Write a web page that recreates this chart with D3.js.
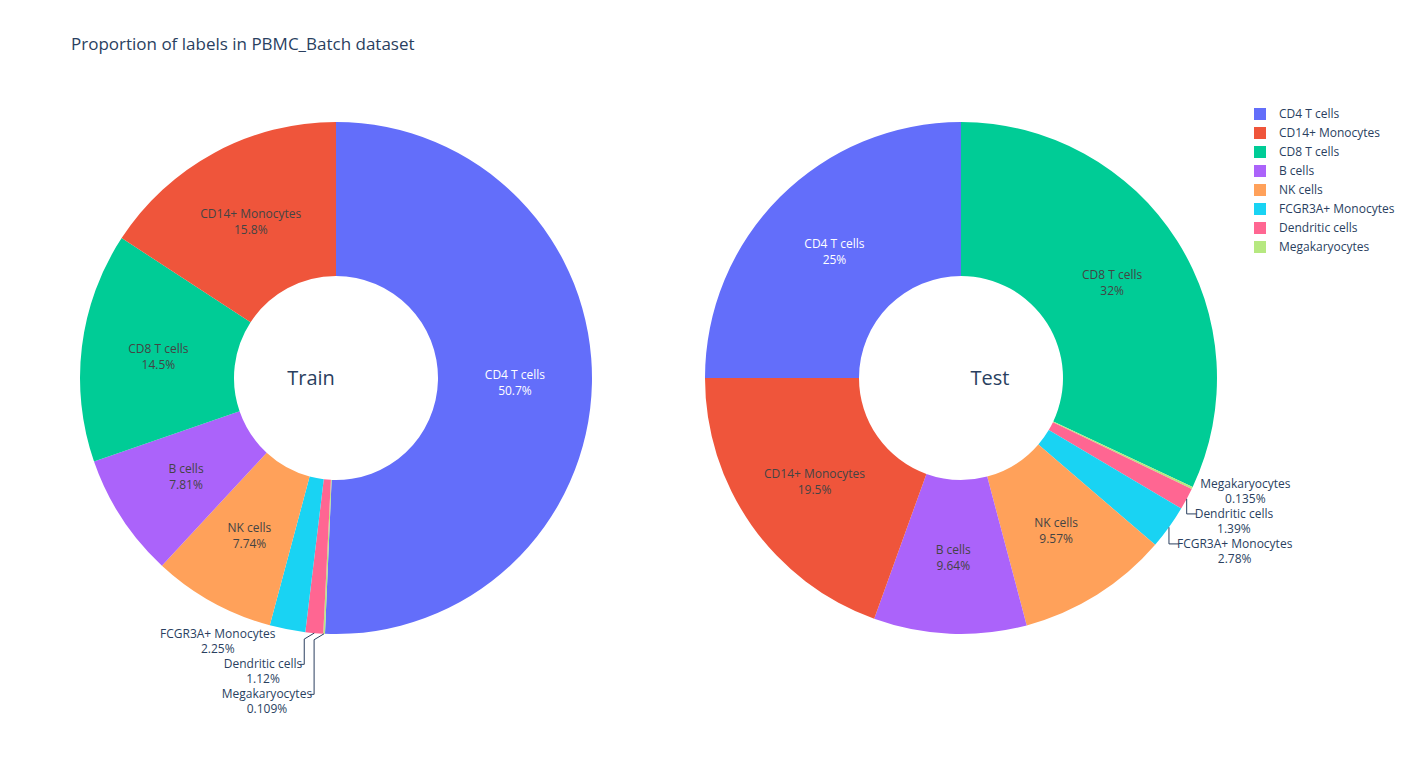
<!DOCTYPE html>
<html><head><meta charset="utf-8">
<script src="https://cdn.jsdelivr.net/npm/d3@7"></script>
<style>body{margin:0;background:#fff}text{font-family:"Open Sans",sans-serif}</style>
</head><body><svg id="c" width="1424" height="767"></svg>
<script>
const labels = ["CD4 T cells","CD14+ Monocytes","CD8 T cells","B cells","NK cells","FCGR3A+ Monocytes","Dendritic cells","Megakaryocytes"];
const colors = ["#636efa","#EF553B","#00cc96","#ab63fa","#FFA15A","#19d3f3","#FF6692","#B6E880"];
// clockwise order from 12 o'clock
const trainLabels = ["CD4 T cells","Megakaryocytes","Dendritic cells","FCGR3A+ Monocytes","NK cells","B cells","CD8 T cells","CD14+ Monocytes"];
const trainValues = [50.7,0.109,1.12,2.25,7.74,7.81,14.5,15.8];
const testLabels = ["CD8 T cells","Megakaryocytes","Dendritic cells","FCGR3A+ Monocytes","NK cells","B cells","CD14+ Monocytes","CD4 T cells"];
const testValues = [32,0.135,1.39,2.78,9.57,9.64,19.5,25];
const outsideLabels = ["Megakaryocytes","Dendritic cells","FCGR3A+ Monocytes"];

const svg = d3.select("#c");
const color = d3.scaleOrdinal(labels, colors);
const fmt = d3.format(".3~r");
const R = 256, r0 = 102;

svg.append("text").attr("x",71).attr("y",50).attr("font-size",17).attr("fill","#2a3f5f")
  .text("Proportion of labels in PBMC_Batch dataset");

function donut(cx, cy, labs, vals, title, titleDx, side){
  const g = svg.append("g").attr("transform",`translate(${cx},${cy})`);
  const data = labs.map((l,i)=>({label:l, value:vals[i]}));
  const arcs = d3.pie().value(d=>d.value).sort(null)(data);
  const arc = d3.arc().innerRadius(r0).outerRadius(R);
  g.selectAll("path").data(arcs).join("path").attr("d",arc).attr("fill",d=>color(d.data.label));
  const mid = d3.arc().innerRadius((r0+R)/2).outerRadius((r0+R)/2);
  arcs.filter(a=>!outsideLabels.includes(a.data.label)).forEach(a=>{
    const [x,y] = mid.centroid(a);
    const t = g.append("text").attr("text-anchor","middle").attr("font-size",12)
      .attr("fill", a.data.label==="CD4 T cells" ? "#fff" : "#444");
    t.append("tspan").attr("x",x).attr("y",y-3).text(a.data.label);
    t.append("tspan").attr("x",x).attr("y",y+13).text(fmt(a.data.value)+"%");
  });
  let prev = -1e9;
  const outs = arcs.filter(a=>outsideLabels.includes(a.data.label));
  if(side<0) outs.reverse();
  outs.forEach((a)=>{
    const ang=(a.startAngle+a.endAngle)/2;
    const ex=R*Math.sin(ang), ey=-R*Math.cos(ang);
    const ly = Math.max(ey + (side<0?5:-4), prev+30);
    prev = ly;
    const t = g.append("text").attr("font-size",12).attr("fill","#2a3f5f").attr("text-anchor","middle");
    const s1=t.append("tspan").text(a.data.label);
    const s2=t.append("tspan").text(fmt(a.data.value)+"%");
    const w = Math.max(s1.node().getComputedTextLength(), s2.node().getComputedTextLength());
    const x0 = side<0 ? ex-12 : ex+8;
    const cxL = side<0 ? x0 - w/2 : x0 + w/2;
    s1.attr("x",cxL).attr("y",ly+4); s2.attr("x",cxL).attr("y",ly+19);
    if(ly-ey>12){
      const lx = side<0 ? ex-Math.min(10,(ex-(x0))) : ex;
      const vx = side<0 ? ex-12+ (ex-x0>0?0:0) : ex-1;
      const vxx = side<0 ? x0+2+ (ex-x0-2)*0 : ex;
      g.append("path").attr("fill","none").attr("stroke","#2a3f5f").attr("stroke-width",1)
        .attr("d", side<0 ? `M${ex},${ey}L${x0+2},${ey+6}L${x0+2},${ly}L${x0-2},${ly}` : `M${ex},${ey}L${ex},${ly}L${x0+2},${ly}`);
    }
  });
  svg.append("text").attr("x",cx+titleDx).attr("y",cy+7).attr("text-anchor","middle")
    .attr("font-size",20).attr("fill","#2a3f5f").text(title);
}
donut(336,378,trainLabels,trainValues,"Train",-25,-1);
donut(961,378,testLabels,testValues,"Test",29,1);

const lg = svg.append("g");
labels.forEach((l,i)=>{
  lg.append("rect").attr("x",1254).attr("y",108+i*19).attr("width",12).attr("height",12).attr("fill",color(l));
  lg.append("text").attr("x",1279).attr("y",118+i*19).attr("font-size",12).attr("fill","#2a3f5f").text(l);
});
</script></body></html>
